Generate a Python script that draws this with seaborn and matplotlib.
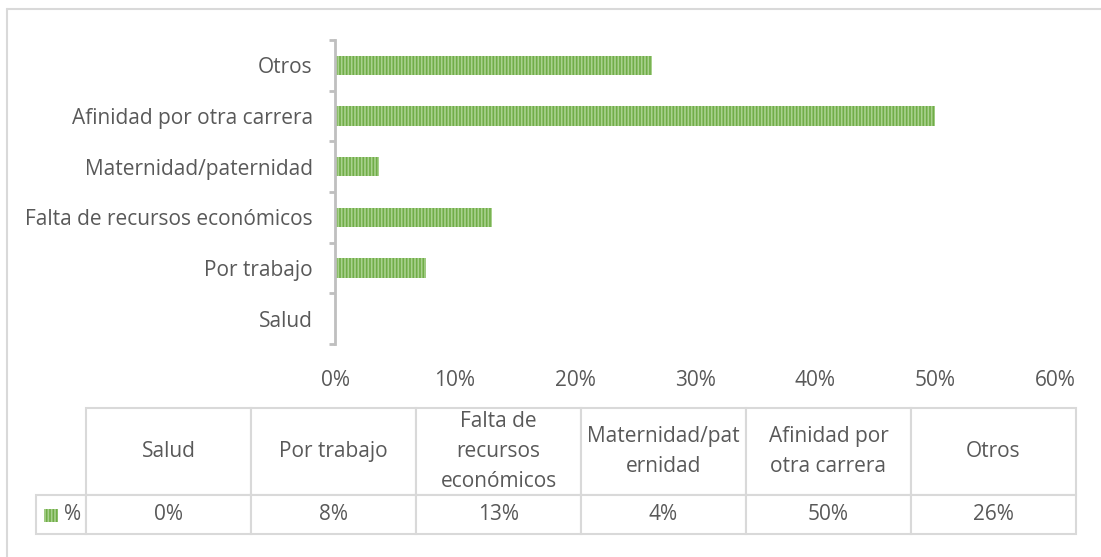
import numpy as np
import pandas as pd
import matplotlib
matplotlib.use('Agg')
import matplotlib.pyplot as plt
import seaborn as sns
from matplotlib.ticker import PercentFormatter, FixedLocator
from matplotlib.patches import Rectangle
from matplotlib.lines import Line2D

# data (table order)
categories = ['Salud', 'Por trabajo', 'Falta de recursos económicos',
              'Maternidad/paternidad', 'Afinidad por otra carrera', 'Otros']
header_labels = ['Salud', 'Por trabajo', 'Falta de\nrecursos\neconómicos',
                 'Maternidad/pat\nernidad', 'Afinidad por\notra carrera', 'Otros']
values = [0.0, 0.076, 0.131, 0.037, 0.50, 0.264]
series_name = '%'
x_ticks = [0.0, 0.1, 0.2, 0.3, 0.4, 0.5, 0.6]

green = '#70AD47'
stripe = '#A9D18E'
grey_text = '#595959'
grid_grey = '#D9D9D9'

sns.set_style('white')
plt.rcParams['font.family'] = ['Open Sans', 'DejaVu Sans']
plt.rcParams['hatch.linewidth'] = 1.2
plt.rcParams['text.color'] = grey_text

df = pd.DataFrame({'category': categories, 'value': values})

fig = plt.figure(figsize=(11.01, 5.57), dpi=100)
ax = fig.add_axes([335 / 1101, 1 - 344 / 557, 720 / 1101, 304 / 557])

sns.barplot(data=df, x='value', y='category', order=categories[::-1],
            color=green, width=0.38, saturation=1, ax=ax)
for p in ax.patches:
    p.set_facecolor(green)
    p.set_edgecolor(stripe)
    p.set_hatch('|' * 5)
    p.set_linewidth(0)

ax.set_xlim(0, 0.6)
ax.set_ylim(5.5, -0.5)
ax.set_xticks(x_ticks)
ax.xaxis.set_major_formatter(PercentFormatter(1, decimals=0))
ax.set_xlabel('')
ax.set_ylabel('')
ax.yaxis.set_minor_locator(FixedLocator(np.arange(-0.5, 6, 1)))
ax.tick_params(axis='x', length=0, pad=19, labelsize=15, labelcolor=grey_text)
ax.tick_params(axis='y', which='major', left=False, length=0, pad=16, labelsize=15,
               labelcolor=grey_text)
ax.tick_params(axis='y', which='minor', left=True, length=4, width=2,
               color='#BFBFBF', direction='out')
for s in ['top', 'right', 'bottom']:
    ax.spines[s].set_visible(False)
ax.spines['left'].set_color('#BFBFBF')
ax.spines['left'].set_linewidth(2)

# data table below the chart
tax = fig.add_axes([36 / 1101, 1 - 534 / 557, 1040 / 1101, 126 / 557])
tax.axis('off')
cell_text = [[''] + header_labels,
             [series_name] + [f'{v:.0%}' for v in values]]
col_w = [50 / 1040] + [165 / 1040] * len(categories)
tbl = tax.table(cellText=cell_text, colWidths=col_w, cellLoc='center',
                bbox=[0, 0, 1, 1])
tbl.auto_set_font_size(False)
tbl.set_fontsize(15)
for (r, c), cell in tbl.get_celld().items():
    cell.set_edgecolor(grid_grey)
    cell.set_linewidth(1.5)
    cell.set_height(87 if r == 0 else 39)
    cell.get_text().set_color(grey_text)
    cell.get_text().set_linespacing(1.55)
    if r == 0 and c == 0:
        cell.visible_edges = ''
    if r == 1 and c == 0:
        cell.get_text().set_horizontalalignment('right')
        cell._loc = 'right'
# legend key in the row-label cell
tax.add_patch(Rectangle((8 / 1040, 12 / 126), 14 / 1040, 13 / 126,
                        facecolor=green, edgecolor=stripe, hatch='|' * 5,
                        linewidth=0, transform=tax.transAxes))

# outer chart border (left and top edges)
fig.add_artist(Line2D([7 / 1101, 7 / 1101], [0, 1 - 9 / 557], color=grid_grey, lw=1.5))
fig.add_artist(Line2D([7 / 1101, 1], [1 - 9 / 557, 1 - 9 / 557], color=grid_grey, lw=1.5))

fig.savefig('out.png', dpi=100)
